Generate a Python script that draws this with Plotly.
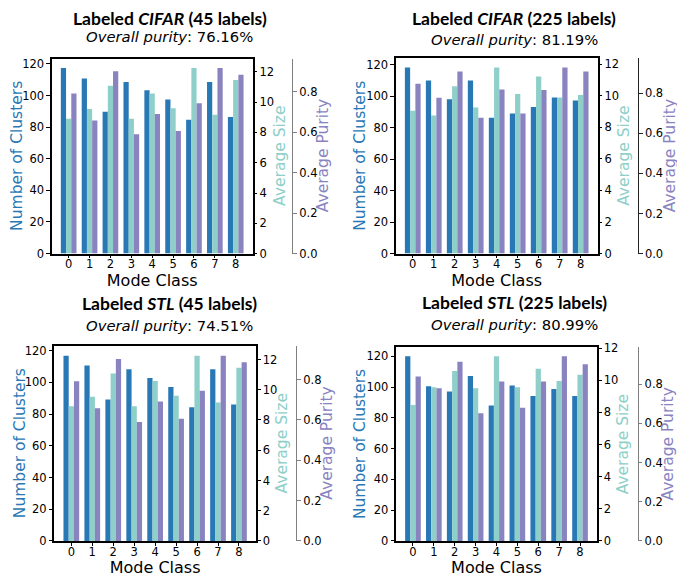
import plotly.graph_objects as go

W, H = 677, 577

mode_classes = [0, 1, 2, 3, 4, 5, 6, 7, 8]

# Panel data
cifar45_clusters = [117.4, 110.8, 89.8, 108.6, 103.3, 97.5, 84.7, 108.6, 86.5]
cifar45_size = [8.9, 9.54, 11.08, 8.9, 10.57, 9.6, 12.25, 9.16, 11.46]
cifar45_purity = [0.792, 0.658, 0.902, 0.59, 0.691, 0.606, 0.744, 0.918, 0.885]

cifar225_clusters = [118.4, 110.1, 98.1, 110.1, 86.4, 89.1, 93.2, 99.2, 97.3]
cifar225_size = [9.04, 8.75, 10.6, 9.25, 11.79, 10.11, 11.22, 9.88, 10.05]
cifar225_purity = [0.847, 0.777, 0.908, 0.677, 0.818, 0.698, 0.815, 0.928, 0.908]

stl45_clusters = [116.8, 110.6, 89.2, 108.2, 102.7, 97.1, 84.3, 108.2, 86.1]
stl45_size = [8.9, 9.54, 11.08, 8.9, 10.57, 9.6, 12.25, 9.16, 11.46]
stl45_purity = [0.792, 0.658, 0.902, 0.59, 0.691, 0.606, 0.744, 0.918, 0.885]

stl225_clusters = [120.0, 100.5, 97.1, 107.3, 88.0, 101.0, 94.2, 98.8, 94.2]
stl225_size = [8.47, 9.57, 10.58, 9.51, 11.49, 9.57, 10.72, 9.95, 10.34]
stl225_purity = [0.838, 0.778, 0.913, 0.651, 0.813, 0.679, 0.813, 0.941, 0.901]

panel_titles = ["<b>Labeled <i>CIFAR</i> (45 labels)</b>",
                "<b>Labeled <i>CIFAR</i> (225 labels)</b>",
                "<b>Labeled <i>STL</i> (45 labels)</b>",
                "<b>Labeled <i>STL</i> (225 labels)</b>"]
overall_purity = ["76.16%", "81.19%", "74.51%", "80.99%"]

cluster_ticks = [0, 20, 40, 60, 80, 100, 120]
size_ticks = [0, 2, 4, 6, 8, 10, 12]
purity_ticks = [0.0, 0.2, 0.4, 0.6, 0.8]
purity_ticktext = ["0.0", "0.2", "0.4", "0.6", "0.8"]

C_BLUE = "#2878B5"
C_TEAL = "#8ECFC9"
C_PURP = "#8983BF"

panels = [
    dict(cl=cifar45_clusters, sz=cifar45_size, pu=cifar45_purity,
         box=(51.7, 252.7, 54.0, 253.3), pur_x=292.3, pur_col="#7f7f7f",
         t1y=12.5, t2y=31.0, tx=169.5, ylx=16.7, szx=279.7, pux=323.0),
    dict(cl=cifar225_clusters, sz=cifar225_size, pu=cifar225_purity,
         box=(395.7, 597.7, 53.3, 253.3), pur_x=638.0, pur_col="#222222",
         t1y=12.5, t2y=34.5, tx=514.3, ylx=360.0, szx=624.0, pux=669.5),
    dict(cl=stl45_clusters, sz=stl45_size, pu=stl45_purity,
         box=(54.3, 256.0, 348.3, 547.3), pur_x=296.3, pur_col="#7f7f7f",
         t1y=304.5, t2y=327.0, tx=169.5, ylx=19.5, szx=281.7, pux=327.0),
    dict(cl=stl225_clusters, sz=stl225_size, pu=stl225_purity,
         box=(396.0, 597.0, 349.0, 547.3), pur_x=637.7, pur_col="#7f7f7f",
         t1y=303.0, t2y=326.0, tx=514.3, ylx=360.0, szx=623.3, pux=668.5),
]

TICKFONT = dict(family="DejaVu Sans", size=11.5, color="black")
fig = go.Figure()
layout = dict(width=W, height=H, autosize=False, margin=dict(l=0, r=0, t=0, b=0),
              paper_bgcolor="white", plot_bgcolor="white", showlegend=False,
              barmode="overlay")
annotations = []

n = len(mode_classes)
bw = 0.25
x_lo = -1.5 * bw
x_hi = (n - 1) + 1.5 * bw
pad = 0.05 * (x_hi - x_lo)
x_range = [x_lo - pad, x_hi + pad]

for i, p in enumerate(panels):
    k = 3 * i
    xa = "x" if i == 0 else f"x{i + 1}"
    xname = "xaxis" if i == 0 else f"xaxis{i + 1}"
    ya1, ya2, ya3 = [("y" if k + j == 0 else f"y{k + j + 1}") for j in range(3)]
    yname = lambda a: "yaxis" + a[1:]
    x0, x1, y0, y1 = p["box"]
    dx = [x0 / W, x1 / W]
    dy = [1 - y1 / H, 1 - y0 / H]

    fig.add_trace(go.Bar(x=mode_classes, y=p["cl"], width=bw, offset=-1.5 * bw,
                         marker=dict(color=C_BLUE, line=dict(width=0)),
                         xaxis=xa, yaxis=ya1))
    fig.add_trace(go.Bar(x=mode_classes, y=p["sz"], width=bw, offset=-0.5 * bw,
                         marker=dict(color=C_TEAL, line=dict(width=0)),
                         xaxis=xa, yaxis=ya2))
    fig.add_trace(go.Bar(x=mode_classes, y=p["pu"], width=bw, offset=0.5 * bw,
                         marker=dict(color=C_PURP, line=dict(width=0)),
                         xaxis=xa, yaxis=ya3))

    layout[xname] = dict(domain=dx, anchor=ya1, range=x_range, tickvals=mode_classes,
                         ticks="outside", ticklen=3, tickcolor="black",
                         ticklabelstandoff=-4,
                         title=dict(text="Mode Class", standoff=0,
                                    font=dict(family="DejaVu Sans", size=16,
                                              color="black")),
                         showline=True, mirror=True, linecolor="black", linewidth=1.6,
                         showgrid=False, zeroline=False, tickfont=TICKFONT)
    layout[yname(ya1)] = dict(domain=dy, anchor=xa, range=[0, max(p["cl"]) * 1.05],
                              tickvals=cluster_ticks, ticks="outside", ticklen=3.5,
                              tickcolor="black", showline=True, mirror=True,
                              linecolor="black", linewidth=1.6, showgrid=False,
                              zeroline=False, tickfont=TICKFONT)
    layout[yname(ya2)] = dict(overlaying=ya1, anchor=xa, side="right",
                              range=[0, max(p["sz"]) * 1.05], tickvals=size_ticks,
                              ticks="outside", ticklen=3.5, tickcolor="black",
                              showline=False, showgrid=False, zeroline=False,
                              tickfont=TICKFONT)
    layout[yname(ya3)] = dict(overlaying=ya1, anchor="free", position=p["pur_x"] / W,
                              side="right", range=[0, max(p["pu"]) * 1.05],
                              tickvals=purity_ticks, ticktext=purity_ticktext,
                              ticks="outside", ticklen=3.5, tickcolor=p["pur_col"],
                              showline=True, linecolor=p["pur_col"], linewidth=1.2,
                              showgrid=False, zeroline=False, tickfont=TICKFONT)

    annotations += [
        dict(text=panel_titles[i], x=p["tx"] / W, y=1 - p["t1y"] / H, xref="paper",
             yref="paper", showarrow=False, xanchor="center", yanchor="middle",
             font=dict(family="Lato", size=17.5, color="black")),
        dict(text=f"<i>Overall purity</i>: {overall_purity[i]}", x=p["tx"] / W,
             y=1 - p["t2y"] / H, xref="paper", yref="paper", showarrow=False,
             xanchor="center", yanchor="middle",
             font=dict(family="DejaVu Sans", size=14.8, color="black")),
        dict(text="Number of Clusters", x=p["ylx"] / W, y=(dy[0] + dy[1]) / 2,
             xref="paper", yref="paper", showarrow=False, textangle=-90,
             xanchor="center", yanchor="middle",
             font=dict(family="DejaVu Sans", size=15.5, color=C_BLUE)),
        dict(text="Average Size", x=p["szx"] / W, y=(dy[0] + dy[1]) / 2,
             xref="paper", yref="paper", showarrow=False, textangle=-90,
             xanchor="center", yanchor="middle",
             font=dict(family="DejaVu Sans", size=15.5, color=C_TEAL)),
        dict(text="Average Purity", x=p["pux"] / W, y=(dy[0] + dy[1]) / 2,
             xref="paper", yref="paper", showarrow=False, textangle=-90,
             xanchor="center", yanchor="middle",
             font=dict(family="DejaVu Sans", size=15.5, color=C_PURP)),
    ]

layout["annotations"] = annotations
fig.update_layout(**layout)
fig.write_html(
    "out.html", config={"displayModeBar": False},
    post_script=(
        "document.documentElement.style.margin='0';"
        "document.documentElement.style.overflow='hidden';"
        "document.body.style.margin='0';document.body.style.padding='0';"
        "document.body.style.overflow='hidden';"
        "document.body.style.height='577px';"
    ))
